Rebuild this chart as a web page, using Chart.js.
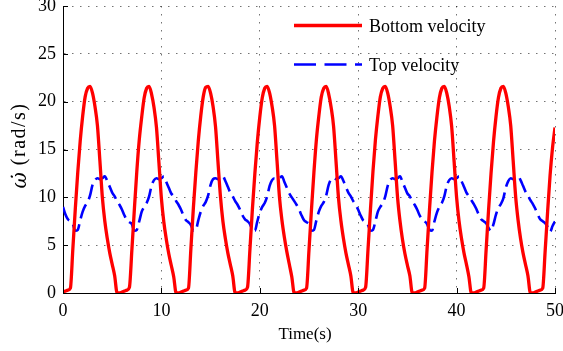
<!DOCTYPE html>
<html>
<head>
<meta charset="utf-8">
<script src="https://cdn.jsdelivr.net/npm/chart.js@4"></script>
<style>
  html, body { margin: 0; padding: 0; background: #fff; }
  canvas { display: block; }
</style>
</head>
<body>
<canvas id="c" width="563" height="351"></canvas>
<script>
// ---- data ----
const timeS = [
  0,0.25,0.5,0.75,1,1.25,1.5,1.75,2,2.25,2.5,2.75,3,3.25,3.5,3.75,4,4.25,4.5,4.75,5,5.25,5.5,5.75,
  6,6.25,6.5,6.75,7,7.25,7.5,7.75,8,8.25,8.5,8.75,9,9.25,9.5,9.75,10,10.25,10.5,10.75,11,11.25,11.5,11.75,
  12,12.25,12.5,12.75,13,13.25,13.5,13.75,14,14.25,14.5,14.75,15,15.25,15.5,15.75,16,16.25,16.5,16.75,17,17.25,17.5,17.75,
  18,18.25,18.5,18.75,19,19.25,19.5,19.75,20,20.25,20.5,20.75,21,21.25,21.5,21.75,22,22.25,22.5,22.75,23,23.25,23.5,23.75,
  24,24.25,24.5,24.75,25,25.25,25.5,25.75,26,26.25,26.5,26.75,27,27.25,27.5,27.75,28,28.25,28.5,28.75,29,29.25,29.5,29.75,
  30,30.25,30.5,30.75,31,31.25,31.5,31.75,32,32.25,32.5,32.75,33,33.25,33.5,33.75,34,34.25,34.5,34.75,35,35.25,35.5,35.75,
  36,36.25,36.5,36.75,37,37.25,37.5,37.75,38,38.25,38.5,38.75,39,39.25,39.5,39.75,40,40.25,40.5,40.75,41,41.25,41.5,41.75,
  42,42.25,42.5,42.75,43,43.25,43.5,43.75,44,44.25,44.5,44.75,45,45.25,45.5,45.75,46,46.25,46.5,46.75,47,47.25,47.5,47.75,
  48,48.25,48.5,48.75,49,49.25,49.5,49.75,50
];
const bottomVelocity = [
  0.1,0.2,0.3,0.5, 4.6,8.8,12.6,15.9, 18.5,20.5,21.4,21.6, 20.9,19.5,17.5,13.8, 10.0,7.5,5.7,4.2, 3.0,1.8,0.0,0.0,
  0.1,0.2,0.3,0.6, 4.5,8.7,12.7,16.0, 18.4,20.4,21.4,21.6, 20.8,19.4,17.3,13.6, 9.9,7.4,5.6,4.1, 2.9,1.7,0.0,0.0,
  0.1,0.2,0.3,0.5, 4.7,8.9,12.6,15.9, 18.5,20.5,21.5,21.6, 20.9,19.5,17.4,13.7, 10.1,7.5,5.7,4.2, 3.0,1.8,0.0,0.0,
  0.1,0.2,0.3,0.6, 4.6,8.8,12.5,15.8, 18.4,20.4,21.4,21.6, 20.9,19.5,17.5,13.8, 10.0,7.6,5.8,4.3, 3.0,1.7,0.0,0.0,
  0.1,0.2,0.3,0.5, 4.5,8.7,12.6,16.0, 18.5,20.5,21.4,21.6, 20.8,19.4,17.4,13.7, 9.9,7.5,5.7,4.2, 3.0,1.8,0.0,0.0,
  0.1,0.2,0.3,0.6, 4.6,8.8,12.7,16.0, 18.5,20.5,21.4,21.6, 20.9,19.5,17.5,13.8, 10.0,7.5,5.6,4.1, 2.9,1.8,0.0,0.0,
  0.1,0.2,0.3,0.5, 4.6,8.8,12.6,15.9, 18.4,20.4,21.4,21.6, 20.9,19.5,17.4,13.7, 10.0,7.5,5.7,4.2, 3.0,1.7,0.0,0.0,
  0.1,0.2,0.3,0.5, 4.5,8.7,12.5,15.8, 18.4,20.4,21.4,21.6, 20.9,19.5,17.5,13.8, 10.1,7.6,5.7,4.2, 3.0,1.8,0.0,0.0,
  0.1,0.2,0.3,0.5, 4.4,8.5,12.3,15.2, 17.3
];
const topVelocity = [
  9.0,8.2,7.7,7.5, 7.2,6.5,6.6,7.6, 8.5,9.1,9.5,10.2, 11.3,11.8,12.0,11.9, 12.0,12.2,11.7,11.1, 10.5,10.1,9.6,9.2,
  8.7,8.1,7.6,7.4, 7.2,6.5,6.6,7.5, 8.5,9.0,9.4,10.1, 11.2,11.8,12.0,11.9, 12.0,12.2,11.6,11.0, 10.4,10.1,9.6,9.2,
  8.7,8.1,7.6,7.4, 7.1,6.5,6.6,7.6, 8.5,9.1,9.5,10.2, 11.3,11.9,12.0,11.9, 12.0,12.2,11.7,11.1, 10.5,10.1,9.6,9.2,
  8.7,8.1,7.7,7.5, 7.2,6.6,6.5,7.5, 8.4,9.0,9.4,10.1, 11.2,11.8,12.0,11.9, 12.0,12.2,11.6,11.0, 10.4,10.0,9.6,9.2,
  8.7,8.1,7.6,7.4, 7.2,6.5,6.6,7.6, 8.5,9.1,9.5,10.2, 11.3,11.9,12.0,11.9, 12.0,12.2,11.7,11.1, 10.5,10.1,9.6,9.2,
  8.7,8.1,7.6,7.4, 7.1,6.5,6.6,7.5, 8.5,9.0,9.4,10.1, 11.2,11.8,12.0,11.9, 12.0,12.2,11.6,11.0, 10.4,10.1,9.6,9.2,
  8.7,8.1,7.7,7.5, 7.2,6.6,6.5,7.5, 8.4,9.0,9.4,10.1, 11.2,11.8,12.0,11.9, 12.0,12.2,11.7,11.1, 10.5,10.1,9.7,9.3,
  8.8,8.2,7.7,7.5, 7.3,6.8,6.5,7.2, 8.2,8.9,9.3,9.9, 11.0,11.7,12.0,11.9, 12.0,12.2,11.8,11.2, 10.6,10.2,9.7,9.3,
  8.8,8.2,7.7,7.5, 7.3,6.9,6.4,7.0, 7.5
];
const seriesLabels = ['Bottom velocity', 'Top velocity'];
const xTitle = 'Time(s)';
const yTitleSymbol = 'ω\u0307';
const yTitleUnit = '(rad/s)';

// ---- helpers ----
const SERIF = "'Liberation Serif', serif";
const toPoints = (xs, ys) => ys.map((v, i) => ({ x: xs[i], y: v }));

const innerTicks = {
  id: 'innerTicks',
  afterDraw(chart) {
    const { ctx, chartArea: a, scales: { x, y } } = chart;
    ctx.save();
    ctx.strokeStyle = '#000';
    ctx.lineWidth = 1;
    ctx.beginPath();
    x.ticks.forEach(t => {
      const px = Math.round(x.getPixelForValue(t.value)) + 0.5;
      ctx.moveTo(px, a.bottom); ctx.lineTo(px, a.bottom - 5);
    });
    y.ticks.forEach(t => {
      const py = Math.round(y.getPixelForValue(t.value)) + 0.5;
      ctx.moveTo(a.left, py); ctx.lineTo(a.left + 5, py);
    });
    ctx.stroke();
    ctx.restore();
  }
};

const titlesAndLegend = {
  id: 'titlesAndLegend',
  afterDraw(chart) {
    const { ctx, chartArea: a } = chart;
    ctx.save();
    ctx.fillStyle = '#000';
    // x title
    ctx.font = '17px ' + SERIF;
    ctx.textAlign = 'center';
    ctx.textBaseline = 'alphabetic';
    ctx.fillText(xTitle, (a.left + a.right) / 2 - 4, 339);
    // y title (rotated)
    ctx.save();
    ctx.translate(20, (a.top + a.bottom) / 2 - 4);
    ctx.rotate(-Math.PI / 2);
    ctx.textBaseline = 'middle';
    ctx.textAlign = 'left';
    const fSym = "italic 20px 'DejaVu Serif', serif", fUnit = '20px ' + SERIF;
    ctx.font = fSym; const w1 = ctx.measureText(yTitleSymbol).width;
    ctx.letterSpacing = '1.5px';
    ctx.font = fUnit; const w2 = ctx.measureText(yTitleUnit).width;
    const gap = 7;
    let sx = -(w1 + gap + w2) / 2;
    ctx.letterSpacing = '0px';
    ctx.font = fSym; ctx.fillText(yTitleSymbol, sx, 1);
    ctx.letterSpacing = '1.5px';
    ctx.font = fUnit; ctx.fillText(yTitleUnit, sx + w1 + gap, 0);
    ctx.restore();
    // legend
    const rows = [31.5, 70.5];
    chart.data.datasets.forEach((ds, i) => {
      const ly = rows[i] - 6;
      ctx.save();
      ctx.strokeStyle = ds.borderColor;
      ctx.lineWidth = ds.borderWidth;
      ctx.setLineDash(ds.borderDash && ds.borderDash.length ? [22, 8.5] : []);
      ctx.beginPath(); ctx.moveTo(294, ly); ctx.lineTo(362, ly); ctx.stroke();
      ctx.restore();
      ctx.font = '18px ' + SERIF;
      ctx.textAlign = 'left';
      ctx.textBaseline = 'alphabetic';
      ctx.fillText(ds.label, 369, rows[i]);
    });
    ctx.restore();
  }
};

new Chart(document.getElementById('c'), {
  type: 'line',
  data: {
    datasets: [
      {
        label: seriesLabels[0],
        data: toPoints(timeS, bottomVelocity),
        borderColor: '#ff0000',
        borderWidth: 3.3,
        pointRadius: 0,
        fill: false,
        cubicInterpolationMode: 'monotone'
      },
      {
        label: seriesLabels[1],
        data: toPoints(timeS, topVelocity),
        borderColor: '#0000ff',
        borderWidth: 2.6,
        borderDash: [15, 6],
        pointRadius: 0,
        fill: false,
        cubicInterpolationMode: 'monotone'
      }
    ]
  },
  options: {
    responsive: false,
    animation: false,
    events: [],
    layout: { padding: { top: 6, right: 8, left: 0, bottom: 0 } },
    plugins: { legend: { display: false }, tooltip: { enabled: false } },
    scales: {
      x: {
        type: 'linear',
        min: 0, max: 50,
        afterFit(s) { s.height = 58; s.paddingLeft = 0; s.paddingRight = 0; },
        ticks: { stepSize: 10, color: '#000', font: { family: SERIF, size: 18 }, padding: 7, maxRotation: 0 },
        grid: { color: 'rgba(0,0,0,0.55)', lineWidth: 1, drawTicks: false },
        border: { display: true, color: '#000', width: 1, dash: [1.5, 6.5] },
        title: { display: false }
      },
      y: {
        min: 0, max: 30,
        afterFit(s) { s.width = 63; s.paddingTop = 0; s.paddingBottom = 0; },
        ticks: { stepSize: 5, color: '#000', font: { family: SERIF, size: 18 }, padding: 7 },
        grid: { color: 'rgba(0,0,0,0.55)', lineWidth: 1, drawTicks: false },
        border: { display: true, color: '#000', width: 1, dash: [1.5, 6.5] },
        title: { display: false }
      }
    }
  },
  plugins: [innerTicks, titlesAndLegend]
});
</script>
</body>
</html>
